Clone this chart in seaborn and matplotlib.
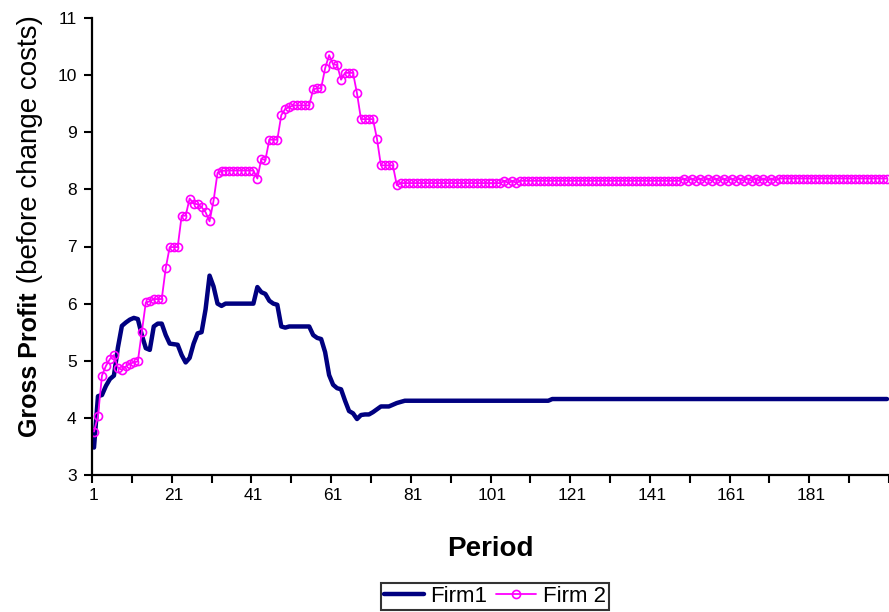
import numpy as np
import pandas as pd
import matplotlib
matplotlib.use("Agg")
import matplotlib.pyplot as plt
import seaborn as sns

# Gross profit per period, periods 1-78 (the adjustment phase)
firm1_early = [3.48, 4.38, 4.40, 4.56, 4.68, 4.74, 5.23, 5.61, 5.67, 5.72,
               5.75, 5.73, 5.45, 5.22, 5.19, 5.60, 5.65, 5.65, 5.45, 5.30,
               5.29, 5.28, 5.10, 4.97, 5.05, 5.30, 5.48, 5.50, 5.90, 6.49,
               6.30, 6.00, 5.96, 6.00, 6.00, 6.00, 6.00, 6.00, 6.00, 6.00,
               6.00, 6.29, 6.20, 6.17, 6.05, 6.00, 5.98, 5.60, 5.58, 5.60,
               5.60, 5.60, 5.60, 5.60, 5.60, 5.45, 5.40, 5.38, 5.15, 4.75,
               4.58, 4.52, 4.50, 4.30, 4.12, 4.08, 3.98, 4.05, 4.06, 4.06,
               4.10, 4.15, 4.20, 4.20, 4.20, 4.23, 4.26, 4.28]

firm2_early = [3.76, 4.03, 4.74, 4.91, 5.03, 5.10, 4.88, 4.84, 4.90, 4.95,
               4.97, 4.99, 5.51, 6.02, 6.04, 6.08, 6.08, 6.08, 6.62, 6.99,
               6.99, 6.99, 7.54, 7.54, 7.84, 7.75, 7.74, 7.69, 7.60, 7.44,
               7.80, 8.29, 8.32, 8.33, 8.33, 8.33, 8.33, 8.33, 8.33, 8.33,
               8.33, 8.19, 8.54, 8.51, 8.87, 8.87, 8.87, 9.30, 9.41, 9.44,
               9.47, 9.47, 9.47, 9.47, 9.47, 9.75, 9.77, 9.77, 10.12, 10.35,
               10.19, 10.18, 9.92, 10.04, 10.04, 10.04, 9.68, 9.23, 9.23, 9.23,
               9.23, 8.89, 8.42, 8.42, 8.42, 8.42, 8.07, 8.11]

# Periods 79-200: settled levels, stored as (level, number of periods) runs
firm1_tail_levels = [4.30, 4.33]
firm1_tail_counts = [37, 85]

firm2_tail_levels = [8.11, 8.15, 8.11, 8.15, 8.11, 8.15,
                     8.19, 8.15, 8.19, 8.15, 8.19, 8.15, 8.19, 8.15,
                     8.19, 8.15, 8.19, 8.15, 8.19, 8.15, 8.19, 8.15,
                     8.19, 8.15, 8.19, 8.15, 8.19, 8.15, 8.19, 8.15,
                     8.19]
firm2_tail_counts = [25, 1, 1, 1, 1, 41,
                     1, 1, 1, 1, 1, 1, 1, 1,
                     1, 1, 1, 1, 1, 1, 1, 1,
                     1, 1, 1, 1, 1, 1, 1, 1,
                     28]

x_tick_labels = [1, 21, 41, 61, 81, 101, 121, 141, 161, 181]
y_ticks = [3, 4, 5, 6, 7, 8, 9, 10, 11]

firm1 = np.concatenate([firm1_early, np.repeat(firm1_tail_levels, firm1_tail_counts)])
firm2 = np.concatenate([firm2_early, np.repeat(firm2_tail_levels, firm2_tail_counts)])
periods = np.arange(1, len(firm1) + 1)

df = pd.DataFrame({"Period": periods, "Firm1": firm1, "Firm 2": firm2})

sns.set_style("ticks")
plt.rcParams["font.family"] = ["Liberation Sans", "DejaVu Sans"]
plt.rcParams["text.color"] = "black"
plt.rcParams["axes.labelcolor"] = "black"
plt.rcParams["xtick.color"] = "black"
plt.rcParams["ytick.color"] = "black"

fig = plt.figure(figsize=(8.89, 6.12), dpi=100)
ax = fig.add_axes([92 / 889, (612 - 475) / 612, (889 - 92) / 889, (475 - 18) / 612])

sns.lineplot(data=df, x="Period", y="Firm1", ax=ax, color="#000080",
             linewidth=3.2, label="Firm1", solid_joinstyle="round")
sns.lineplot(data=df, x="Period", y="Firm 2", ax=ax, color="#FF00FF",
             linewidth=1.3, marker="o", markersize=5.8, markerfacecolor="none",
             markeredgecolor="#FF00FF", markeredgewidth=1.2, label="Firm 2")

ax.set_xlim(0.5, len(periods) + 0.5)
ax.set_ylim(3, 11)
ax.set_yticks(y_ticks)
ax.set_xticks(x_tick_labels)
ax.set_xticklabels([str(v) for v in x_tick_labels])
ax.set_xticks(np.arange(0.5, len(periods) + 1, 10), minor=True)
ax.tick_params(axis="x", which="major", length=0, pad=9, labelsize=12.5,
               colors="black", labelcolor="black")
ax.tick_params(axis="x", which="minor", length=6, width=1.5, direction="out", color="black")
ax.tick_params(axis="y", which="major", length=6, width=1.5, direction="out",
               labelsize=12.5, pad=5, colors="black", labelcolor="black")

for side in ["top", "right"]:
    ax.spines[side].set_visible(False)
for side in ["left", "bottom"]:
    ax.spines[side].set_linewidth(1.6)
    ax.spines[side].set_color("black")

ax.set_xlabel("Period", fontsize=20, fontweight="bold", labelpad=24, color="black")
ax.set_ylabel("")

# two-part y axis title: bold main label plus plain note
fig.text(37 / 889, 1 - 437 / 612, "Gross Profit", rotation=90, rotation_mode="anchor",
         ha="left", va="baseline", fontsize=18, fontweight="bold", color="black")
fig.text(37 / 889, 1 - 291 / 612, " (before change costs)", rotation=90,
         rotation_mode="anchor", ha="left", va="baseline", fontsize=20, color="black")

ax.get_legend().remove()
handles, labels = ax.get_legend_handles_labels()
leg = fig.legend(handles, labels, loc="lower center", bbox_to_anchor=(495 / 889, 0.0),
                 ncol=2, frameon=True, fancybox=False, edgecolor="black",
                 fontsize=16, handlelength=1.8, handletextpad=0.3,
                 columnspacing=0.4, borderpad=0.12, borderaxespad=0.1)
leg.get_frame().set_linewidth(1.5)
for t in leg.get_texts():
    t.set_color("black")

fig.savefig("out.png", dpi=100, facecolor="white")
